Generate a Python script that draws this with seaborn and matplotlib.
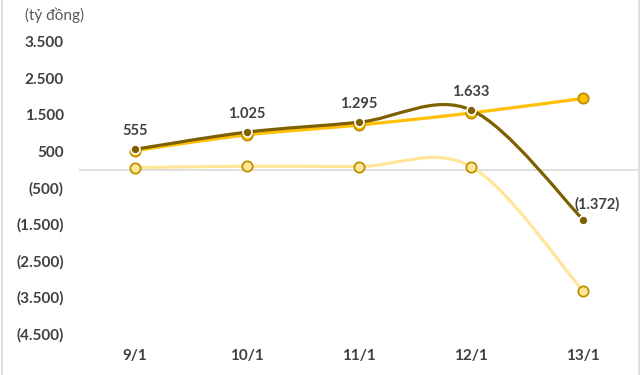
import numpy as np
import pandas as pd
import matplotlib.pyplot as plt
import seaborn as sns
from matplotlib.path import Path
from matplotlib.patches import PathPatch
from matplotlib.lines import Line2D

dates = ['9/1', '10/1', '11/1', '12/1', '13/1']
dark_vals = [555, 1025, 1295, 1633, -1372]
orange_vals = [520, 950, 1220, 1550, 1950]
light_vals = [50, 90, 80, 80, -3330]
dark_labels = ['555', '1.025', '1.295', '1.633', '(1.372)']
yticks = [3500, 2500, 1500, 500, -500, -1500, -2500, -3500, -4500]


def fmt(v):
    s = f'{abs(v):,}'.replace(',', '.')
    return f'({s})' if v < 0 else s


def smooth_path(xs, ys):
    # excel-style smoothed line: cubic bezier through the points
    p = np.column_stack([xs, ys]).astype(float)
    n = len(p)
    verts = [p[0]]
    codes = [Path.MOVETO]
    for i in range(n - 1):
        prev = p[max(i - 1, 0)]
        nxt = p[min(i + 2, n - 1)]
        c1 = p[i] + (p[i + 1] - prev) / 6
        c2 = p[i + 1] - (nxt - p[i]) / 6
        verts += [c1, c2, p[i + 1]]
        codes += [Path.CURVE4] * 3
    return Path(verts, codes)


sns.set_theme(style='white')
plt.rcParams['font.family'] = ['Lato', 'DejaVu Sans']

df = pd.DataFrame({'x': np.arange(len(dates)), 'date': dates,
                   'dark': dark_vals, 'orange': orange_vals, 'light': light_vals})

fig = plt.figure(figsize=(6.4, 3.75), dpi=100)
ax = fig.add_axes([79 / 640, 0.1104, 560 / 640, 0.7779])

ax.axhline(0, color='#d9d9d9', lw=1.2, zorder=1)

series = [
    ('light', '#ffe699', '#ffe699', '#bf9000', 55, 1.3),
    ('orange', '#ffc000', '#ffc000', '#bf9000', 55, 1.3),
    ('dark', '#7f6000', '#7f6000', 'white', 42, 1.2),
]
for i, (col, lc, fc, ec, s, elw) in enumerate(series):
    ax.add_patch(PathPatch(smooth_path(df['x'], df[col]), fill=False,
                           edgecolor=lc, lw=2.3, zorder=2 + i * 2, capstyle='round'))
    sns.scatterplot(data=df, x='x', y=col, ax=ax, color=fc, edgecolor=ec,
                    linewidth=elw, s=s, zorder=3 + i * 2, legend=False)

for i, lab in enumerate(dark_labels):
    off = (10, 6) if dark_vals[i] < 0 else (0, 8)
    ax.annotate(lab, (i, dark_vals[i]), xytext=off, textcoords='offset points',
                ha='center', va='bottom', fontsize=10.5, fontweight='bold', color='#404040')

ax.set_xlim(-0.5, len(dates) - 0.5)
ax.set_ylim(-4500, 3500)
ax.set_xticks(df['x'])
ax.set_xticklabels(dates)
ax.set_yticks(yticks)
ax.set_yticklabels([fmt(v) for v in yticks])
ax.tick_params(axis='both', length=0, labelsize=11, labelcolor='#404040')
ax.tick_params(axis='y', pad=11)
ax.tick_params(axis='x', pad=11)
for t in ax.get_xticklabels() + ax.get_yticklabels():
    t.set_fontweight('bold')
ax.set_xlabel('')
ax.set_ylabel('')
sns.despine(ax=ax, left=True, bottom=True)

fig.text(25 / 640, 1 - 15 / 375, '(tỷ đồng)', fontsize=11, color='#595959',
         va='center', ha='left')

# chart border (cropped at top and bottom)
for xb in (1.5 / 640, 638.5 / 640):
    fig.add_artist(Line2D([xb, xb], [0, 1], transform=fig.transFigure,
                          color='#d9d9d9', lw=1.2))

fig.savefig('out.png', dpi=100)
